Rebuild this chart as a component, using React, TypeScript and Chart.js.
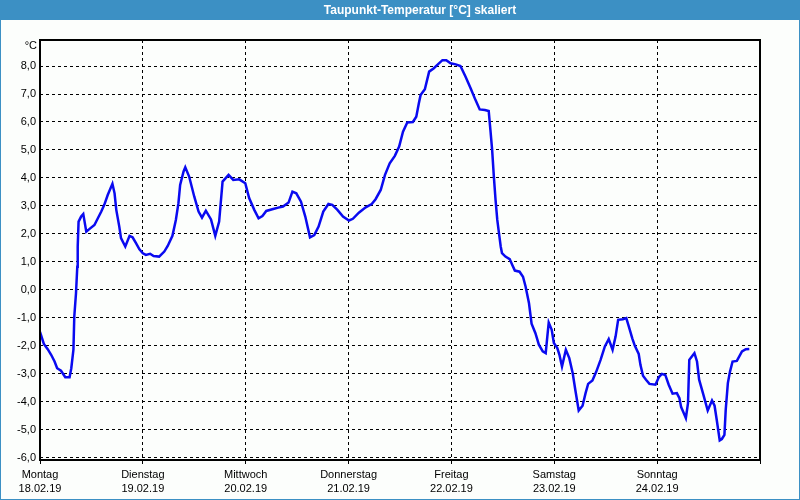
import { useEffect, useRef } from "react";
import { Chart, registerables } from "chart.js";

Chart.register(...registerables);

const TITLE = "Taupunkt-Temperatur [°C] skaliert";
const UNIT_LABEL = "°C";
const DAY_NAMES = ["Montag", "Dienstag", "Mittwoch", "Donnerstag", "Freitag", "Samstag", "Sonntag"];
const DAY_DATES = ["18.02.19", "19.02.19", "20.02.19", "21.02.19", "22.02.19", "23.02.19", "24.02.19"];
const X_TICKS = [0, 24, 48, 72, 96, 120, 144, 168];
const Y_TICKS = [-6, -5, -4, -3, -2, -1, 0, 1, 2, 3, 4, 5, 6, 7, 8];

// hours since Monday 00:00
const HOURS = [
  0, 0.9, 1.8, 2.6, 3.4, 4.0, 4.9, 5.9, 6.9, 7.3, 7.8, 8.0, 8.4, 8.7, 8.8, 9.0, 9.6, 10.1, 10.4, 10.8,
  11.5, 12.7, 13.5, 14.3, 15.0, 15.8, 16.9, 17.4, 17.8, 18.5, 18.9, 19.9, 20.9, 21.6, 22.4, 23.2, 24.0, 24.7, 25.7, 26.5,
  27.8, 29.0, 29.8, 30.9, 31.7, 32.3, 32.7, 33.5, 33.9, 34.8, 36.0, 37.0, 37.8, 38.7, 39.9, 40.9, 41.8, 42.6, 44.0, 45.1,
  46.5, 47.9, 48.8, 50.0, 51.0, 51.9, 52.8, 54.2, 55.6, 56.7, 58.0, 58.9, 59.8, 60.9, 61.9, 63.0, 64.0, 65.0, 66.1, 67.3,
  68.2, 69.4, 70.7, 72.1, 73.0, 74.4, 76.0, 77.4, 78.3, 79.5, 80.5, 81.6, 82.8, 83.8, 84.7, 85.7, 87.0, 87.8, 88.4, 88.8,
  89.8, 90.8, 91.9, 92.9, 93.9, 94.8, 95.8, 97.0, 98.1, 99.3, 100.5, 101.6, 102.6, 103.8, 104.7, 105.1, 105.5, 105.9, 106.3, 106.7,
  107.1, 107.5, 107.8, 108.6, 109.6, 110.2, 110.8, 111.9, 112.7, 113.3, 114.1, 114.7, 115.6, 116.4, 117.3, 118.0, 118.3, 118.7, 119.4, 119.9,
  120.7, 121.2, 121.8, 122.7, 123.5, 124.3, 124.9, 125.7, 126.6, 127.3, 127.9, 128.9, 129.8, 130.8, 131.8, 132.7, 133.6, 134.3, 134.9, 136.0,
  136.8, 137.4, 138.2, 138.8, 139.7, 140.1, 140.7, 141.4, 142.2, 143.6, 144.4, 145.1, 145.9, 146.7, 147.6, 148.6, 149.2, 149.6, 150.2, 150.7,
  151.2, 151.5, 152.1, 152.7, 153.3, 153.8, 154.8, 155.8, 156.8, 157.4, 157.9, 158.6, 159.1, 159.7, 160.0, 160.5, 161.0, 161.6, 162.6, 163.8,
  164.7, 165.5,
];

const DEWPOINT = [
  -1.5, -1.93, -2.12, -2.32, -2.56, -2.8, -2.89, -3.12, -3.12, -2.8, -2.14, -0.95, -0.12, 0.83, 1.55, 2.44, 2.62, 2.71, 2.44, 2.08,
  2.17, 2.32, 2.56, 2.8, 3.04, 3.39, 3.79, 3.45, 2.86, 2.26, 1.85, 1.55, 1.93, 1.88, 1.67, 1.45, 1.31, 1.25, 1.29, 1.21,
  1.19, 1.37, 1.57, 1.93, 2.5, 3.1, 3.75, 4.23, 4.38, 4.05, 3.33, 2.8, 2.58, 2.83, 2.52, 1.93, 2.44, 3.87, 4.11, 3.93,
  3.95, 3.81, 3.28, 2.86, 2.56, 2.64, 2.82, 2.88, 2.94, 2.98, 3.12, 3.51, 3.45, 3.15, 2.62, 1.88, 1.96, 2.26, 2.8, 3.07,
  3.04, 2.86, 2.62, 2.48, 2.54, 2.76, 2.95, 3.07, 3.24, 3.57, 4.11, 4.52, 4.79, 5.12, 5.65, 5.98, 6.0, 6.19, 6.67, 6.96,
  7.17, 7.8, 7.92, 8.07, 8.21, 8.21, 8.1, 8.06, 8.0, 7.62, 7.2, 6.79, 6.45, 6.43, 6.39, 5.71, 5.0, 4.05, 3.21, 2.5,
  2.02, 1.55, 1.31, 1.19, 1.1, 0.89, 0.69, 0.65, 0.47, 0.12, -0.48, -1.21, -1.55, -1.96, -2.2, -2.26, -1.79, -1.17, -1.43, -1.9,
  -2.08, -2.32, -2.74, -2.14, -2.44, -2.98, -3.57, -4.31, -4.14, -3.69, -3.36, -3.24, -2.92, -2.5, -2.02, -1.76, -2.14, -1.67, -1.07, -1.05,
  -1.01, -1.31, -1.73, -2.0, -2.29, -2.68, -3.07, -3.21, -3.36, -3.39, -3.12, -3.0, -3.04, -3.39, -3.71, -3.69, -3.87, -4.19, -4.4, -4.58,
  -4.05, -2.5, -2.38, -2.26, -2.56, -3.21, -3.75, -4.31, -3.95, -4.14, -4.64, -5.38, -5.33, -5.18, -4.29, -3.33, -2.92, -2.56, -2.54, -2.2,
  -2.12, -2.11,
];

const FONT = "'Liberation Sans', Arial, sans-serif";
const FRAME_BLUE = "#3c90c4";

const framePlugin = {
  id: "frame",
  beforeDraw(chart: any) {
    const { ctx, width, height } = chart;
    ctx.save();
    ctx.fillStyle = "#fcfefc";
    ctx.fillRect(0, 0, width, height);
    ctx.fillStyle = FRAME_BLUE;
    ctx.fillRect(0, 0, width, 20);
    ctx.strokeStyle = FRAME_BLUE;
    ctx.lineWidth = 1;
    ctx.strokeRect(0.5, 0.5, width - 1, height - 1);
    ctx.fillStyle = "#ffffff";
    ctx.font = `bold 12px ${FONT}`;
    ctx.textAlign = "center";
    ctx.textBaseline = "middle";
    ctx.fillText(TITLE, 420, 10.5);
    ctx.restore();
  },
  afterDraw(chart: any) {
    const { ctx, chartArea } = chart;
    ctx.save();
    ctx.strokeStyle = "#000000";
    ctx.lineWidth = 2;
    ctx.strokeRect(chartArea.left, chartArea.top, chartArea.right - chartArea.left, chartArea.bottom - chartArea.top);
    ctx.fillStyle = "#000000";
    ctx.font = `11px ${FONT}`;
    ctx.textAlign = "right";
    ctx.textBaseline = "middle";
    ctx.fillText(UNIT_LABEL, 37, 46);
    ctx.restore();
  },
};

export default function App() {
  const ref = useRef<HTMLCanvasElement | null>(null);

  useEffect(() => {
    document.body.style.margin = "0";
    const canvas = ref.current;
    if (!canvas) return;
    const chart = new Chart(canvas, {
      type: "line",
      data: {
        datasets: [
          {
            data: HOURS.map((h, i) => ({ x: h, y: DEWPOINT[i] })),
            borderColor: "#0a0af0",
            borderWidth: 2.5,
            pointRadius: 0,
            tension: 0,
            fill: false,
          },
        ],
      },
      options: {
        animation: false,
        responsive: false,
        devicePixelRatio: 1,
        layout: { padding: { left: 0, top: 40, right: 40, bottom: 0 } },
        plugins: {
          legend: { display: false },
          title: { display: false },
          tooltip: { enabled: false },
        },
        scales: {
          x: {
            type: "linear",
            min: 0,
            max: 168,
            afterBuildTicks: (scale: any) => {
              scale.ticks = X_TICKS.map((v) => ({ value: v }));
            },
            afterFit: (scale: any) => {
              scale.height = 40;
            },
            ticks: {
              autoSkip: false,
              maxRotation: 0,
              minRotation: 0,
              padding: 4,
              color: "#000000",
              font: { family: FONT, size: 11, lineHeight: 1.3 },
              callback: (value: any) => {
                const i = X_TICKS.indexOf(Number(value));
                return i >= 0 && i < DAY_NAMES.length ? [DAY_NAMES[i], DAY_DATES[i]] : "";
              },
            },
            grid: { color: "#000000", lineWidth: 1, drawTicks: true, tickLength: 4 },
            border: { display: false, dash: [3, 3] },
          },
          y: {
            type: "linear",
            min: -6.08,
            max: 8.93,
            afterBuildTicks: (scale: any) => {
              scale.ticks = Y_TICKS.map((v) => ({ value: v }));
            },
            afterFit: (scale: any) => {
              scale.width = 40;
            },
            ticks: {
              autoSkip: false,
              padding: 4,
              color: "#000000",
              font: { family: FONT, size: 11 },
              callback: (value: any) => Number(value).toFixed(1).replace(".", ","),
            },
            grid: { color: "#000000", lineWidth: 1, drawTicks: false },
            border: { display: false, dash: [3, 3] },
          },
        },
      },
      plugins: [framePlugin],
    });
    return () => chart.destroy();
  }, []);

  return (
    <div style={{ width: 800, height: 500 }}>
      <canvas ref={ref} width={800} height={500} style={{ display: "block" }} />
    </div>
  );
}
